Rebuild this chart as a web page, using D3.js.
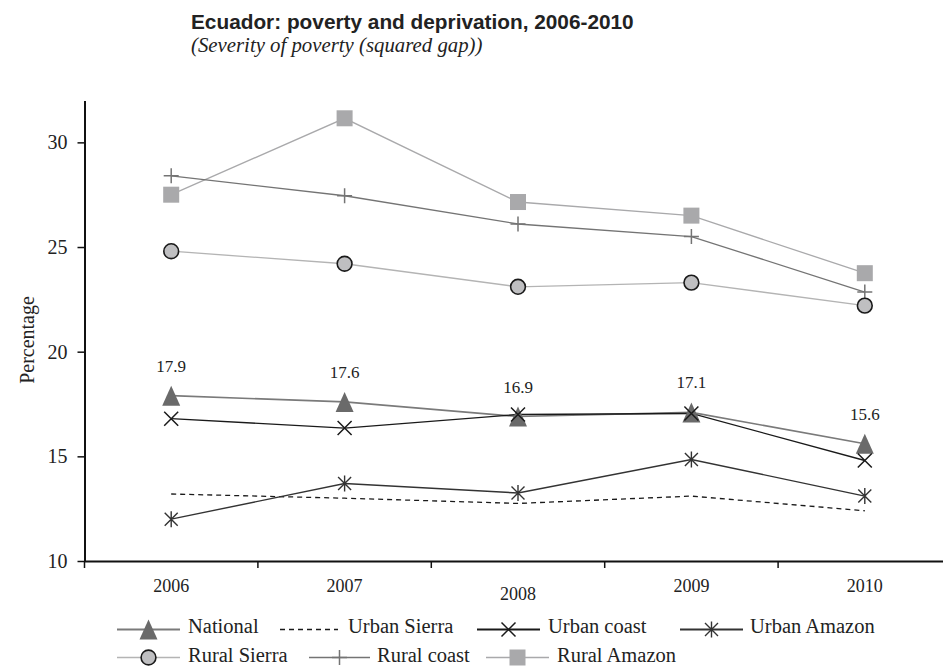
<!DOCTYPE html>
<html><head><meta charset="utf-8">
<script src="https://cdn.jsdelivr.net/npm/d3@7"></script>
<style>body{margin:0;background:#fff}</style>
</head><body>
<svg id="chart" width="943" height="667"></svg>
<script>
// ---- data ----
const years = ["2006","2007","2008","2009","2010"];
const national    = [17.9, 17.6, 16.9, 17.1, 15.6];
const urbanSierra = [13.2, 13.0, 12.75, 13.1, 12.4];
const urbanCoast  = [16.8, 16.35, 17.0, 17.05, 14.8];
const urbanAmazon = [12.0, 13.7, 13.25, 14.85, 13.1];
const ruralSierra = [24.8, 24.2, 23.1, 23.3, 22.2];
const ruralCoast  = [28.4, 27.45, 26.1, 25.5, 22.85];
const ruralAmazon = [27.5, 31.15, 27.15, 26.5, 23.75];
const nationalLabels = ["17.9", "17.6", "16.9", "17.1", "15.6"];
const yTicks = [10, 15, 20, 25, 30];
const seriesNames = ["National","Urban Sierra","Urban coast","Urban Amazon","Rural Sierra","Rural coast","Rural Amazon"];

// ---- styles ----
const serif = "'Liberation Serif','Times New Roman',serif";
const sans = "'Liberation Sans',Arial,sans-serif";
const series = [
  {name:"Rural Amazon", values:ruralAmazon, color:"#a9a9ab", width:1.3, marker:"square"},
  {name:"Rural coast",  values:ruralCoast,  color:"#747474", width:1.3, marker:"plus"},
  {name:"Rural Sierra", values:ruralSierra, color:"#b4b4b4", width:1.3, marker:"circle"},
  {name:"Urban Sierra", values:urbanSierra, color:"#1a1a1a", width:1.3, marker:null, dash:"5,4"},
  {name:"National",     values:national,    color:"#7a7a7a", width:1.6, marker:"triangle"},
  {name:"Urban Amazon", values:urbanAmazon, color:"#333333", width:1.4, marker:"asterisk"},
  {name:"Urban coast",  values:urbanCoast,  color:"#1a1a1a", width:1.4, marker:"x"}
];
const byName = Object.fromEntries(series.map(s => [s.name, s]));

const svg = d3.select("#chart");
const x = d3.scaleBand().domain(years).range([84.5, 951.5]);
const y = d3.scaleLinear().domain([10, 32]).range([561, 100.5]);

// title
svg.append("text").attr("x", 191).attr("y", 29)
  .style("font-family", sans).style("font-weight", "bold").style("font-size", "20.8px").style("fill", "#222")
  .text("Ecuador: poverty and deprivation, 2006-2010");
svg.append("text").attr("x", 191).attr("y", 52)
  .style("font-family", serif).style("font-style", "italic").style("font-size", "20.8px").style("fill", "#222")
  .text("(Severity of poverty (squared gap))");

// y axis
const yAxis = svg.append("g").attr("transform", "translate(84.5,0)")
  .call(d3.axisLeft(y).tickValues(yTicks).tickSize(7).tickPadding(10).tickSizeOuter(0));
yAxis.select(".domain").attr("stroke", "#111").attr("stroke-width", 2);
yAxis.selectAll(".tick line").attr("stroke", "#111").attr("stroke-width", 1.5);
yAxis.selectAll(".tick text").style("font-family", serif).style("font-size", "20px").attr("fill", "#222");

// x axis
const xAxis = svg.append("g").attr("transform", "translate(0,561)")
  .call(d3.axisBottom(x).tickSize(0).tickPadding(0).tickSizeOuter(0));
xAxis.select(".domain").attr("stroke", "#111").attr("stroke-width", 2);
xAxis.selectAll(".tick line").remove();
xAxis.selectAll(".tick text")
  .style("font-family", serif).style("font-size", "18px").attr("fill", "#222")
  .attr("dy", null)
  .attr("y", d => d === "2008" ? 39 : 31);
// boundary ticks between bands
const bounds = years.map(d => x(d)).concat([x(years[years.length-1]) + x.bandwidth()]);
svg.append("g").selectAll("line").data(bounds).join("line")
  .attr("x1", d => d).attr("x2", d => d).attr("y1", 561).attr("y2", 568)
  .attr("stroke", "#111").attr("stroke-width", 1.5);

// y label
svg.append("text")
  .attr("transform", "translate(34,340) rotate(-90)")
  .attr("text-anchor", "middle")
  .style("font-family", serif).style("font-size", "20px").attr("fill", "#222")
  .text("Percentage");

// markers
function drawMarker(g, type, color) {
  if (type === "triangle") {
    g.append("path").attr("d", "M0,-10L9,10L-9,10Z").attr("fill", "#6a6a6a");
  } else if (type === "circle") {
    g.append("circle").attr("r", 7.4).attr("fill", "#bfbfc1").attr("stroke", "#1a1a1a").attr("stroke-width", 1.6);
  } else if (type === "square") {
    g.append("rect").attr("x", -8).attr("y", -8).attr("width", 16).attr("height", 16).attr("fill", "#a9a9ab");
  } else if (type === "plus") {
    g.append("path").attr("d", "M-7.5,0H7.5M0,-7.5V7.5").attr("stroke", color).attr("stroke-width", 1.5);
  } else if (type === "x") {
    g.append("path").attr("d", "M-7,-7L7,7M-7,7L7,-7").attr("stroke", "#1a1a1a").attr("stroke-width", 1.5);
  } else if (type === "asterisk") {
    g.append("path").attr("d", "M-6.5,-6.5L6.5,6.5M-6.5,6.5L6.5,-6.5M0,-8V8").attr("stroke", "#333").attr("stroke-width", 1.4);
  }
}

const cx = d => x(d) + x.bandwidth() / 2;
const line = d3.line().x((v, i) => cx(years[i])).y(v => y(v));

const plot = svg.append("g");
series.forEach(s => {
  plot.append("path").datum(s.values).attr("d", line)
    .attr("fill", "none").attr("stroke", s.color).attr("stroke-width", s.width)
    .attr("stroke-dasharray", s.dash || null);
});
series.forEach(s => {
  if (!s.marker) return;
  s.values.forEach((v, i) => {
    const g = plot.append("g").attr("transform", `translate(${cx(years[i])},${y(v)})`);
    drawMarker(g, s.marker, s.color);
  });
});

// national data labels
svg.append("g").selectAll("text").data(national).join("text")
  .attr("x", (v, i) => cx(years[i])).attr("y", v => y(v) - 24)
  .attr("text-anchor", "middle")
  .style("font-family", serif).style("font-size", "17px").attr("fill", "#222")
  .text((v, i) => nationalLabels[i]);

// legend
const legendLayout = {
  "National":     {x0:117, x1:180, tx:188, row:0},
  "Urban Sierra": {x0:280, x1:338, tx:348, row:0},
  "Urban coast":  {x0:477, x1:540, tx:548, row:0},
  "Urban Amazon": {x0:680, x1:743, tx:750, row:0},
  "Rural Sierra": {x0:117, x1:180, tx:188, row:1},
  "Rural coast":  {x0:309, x1:370, tx:377, row:1},
  "Rural Amazon": {x0:486, x1:549, tx:557, row:1}
};
const rowLineY = [629.5, 657.5];
const rowTextY = [633, 661.5];
const legend = svg.append("g");
seriesNames.forEach(name => {
  const s = byName[name], L = legendLayout[name];
  const ly = rowLineY[L.row];
  legend.append("line").attr("x1", L.x0).attr("x2", L.x1).attr("y1", ly).attr("y2", ly)
    .attr("stroke", s.color).attr("stroke-width", s.width + 0.4)
    .attr("stroke-dasharray", s.dash || null);
  if (s.marker) {
    const g = legend.append("g").attr("transform", `translate(${(L.x0 + L.x1) / 2},${ly})`);
    drawMarker(g, s.marker, s.color);
  }
  legend.append("text").attr("x", L.tx).attr("y", rowTextY[L.row])
    .style("font-family", serif).style("font-size", "20.5px").attr("fill", "#222")
    .text(name);
});
</script>
</body></html>
